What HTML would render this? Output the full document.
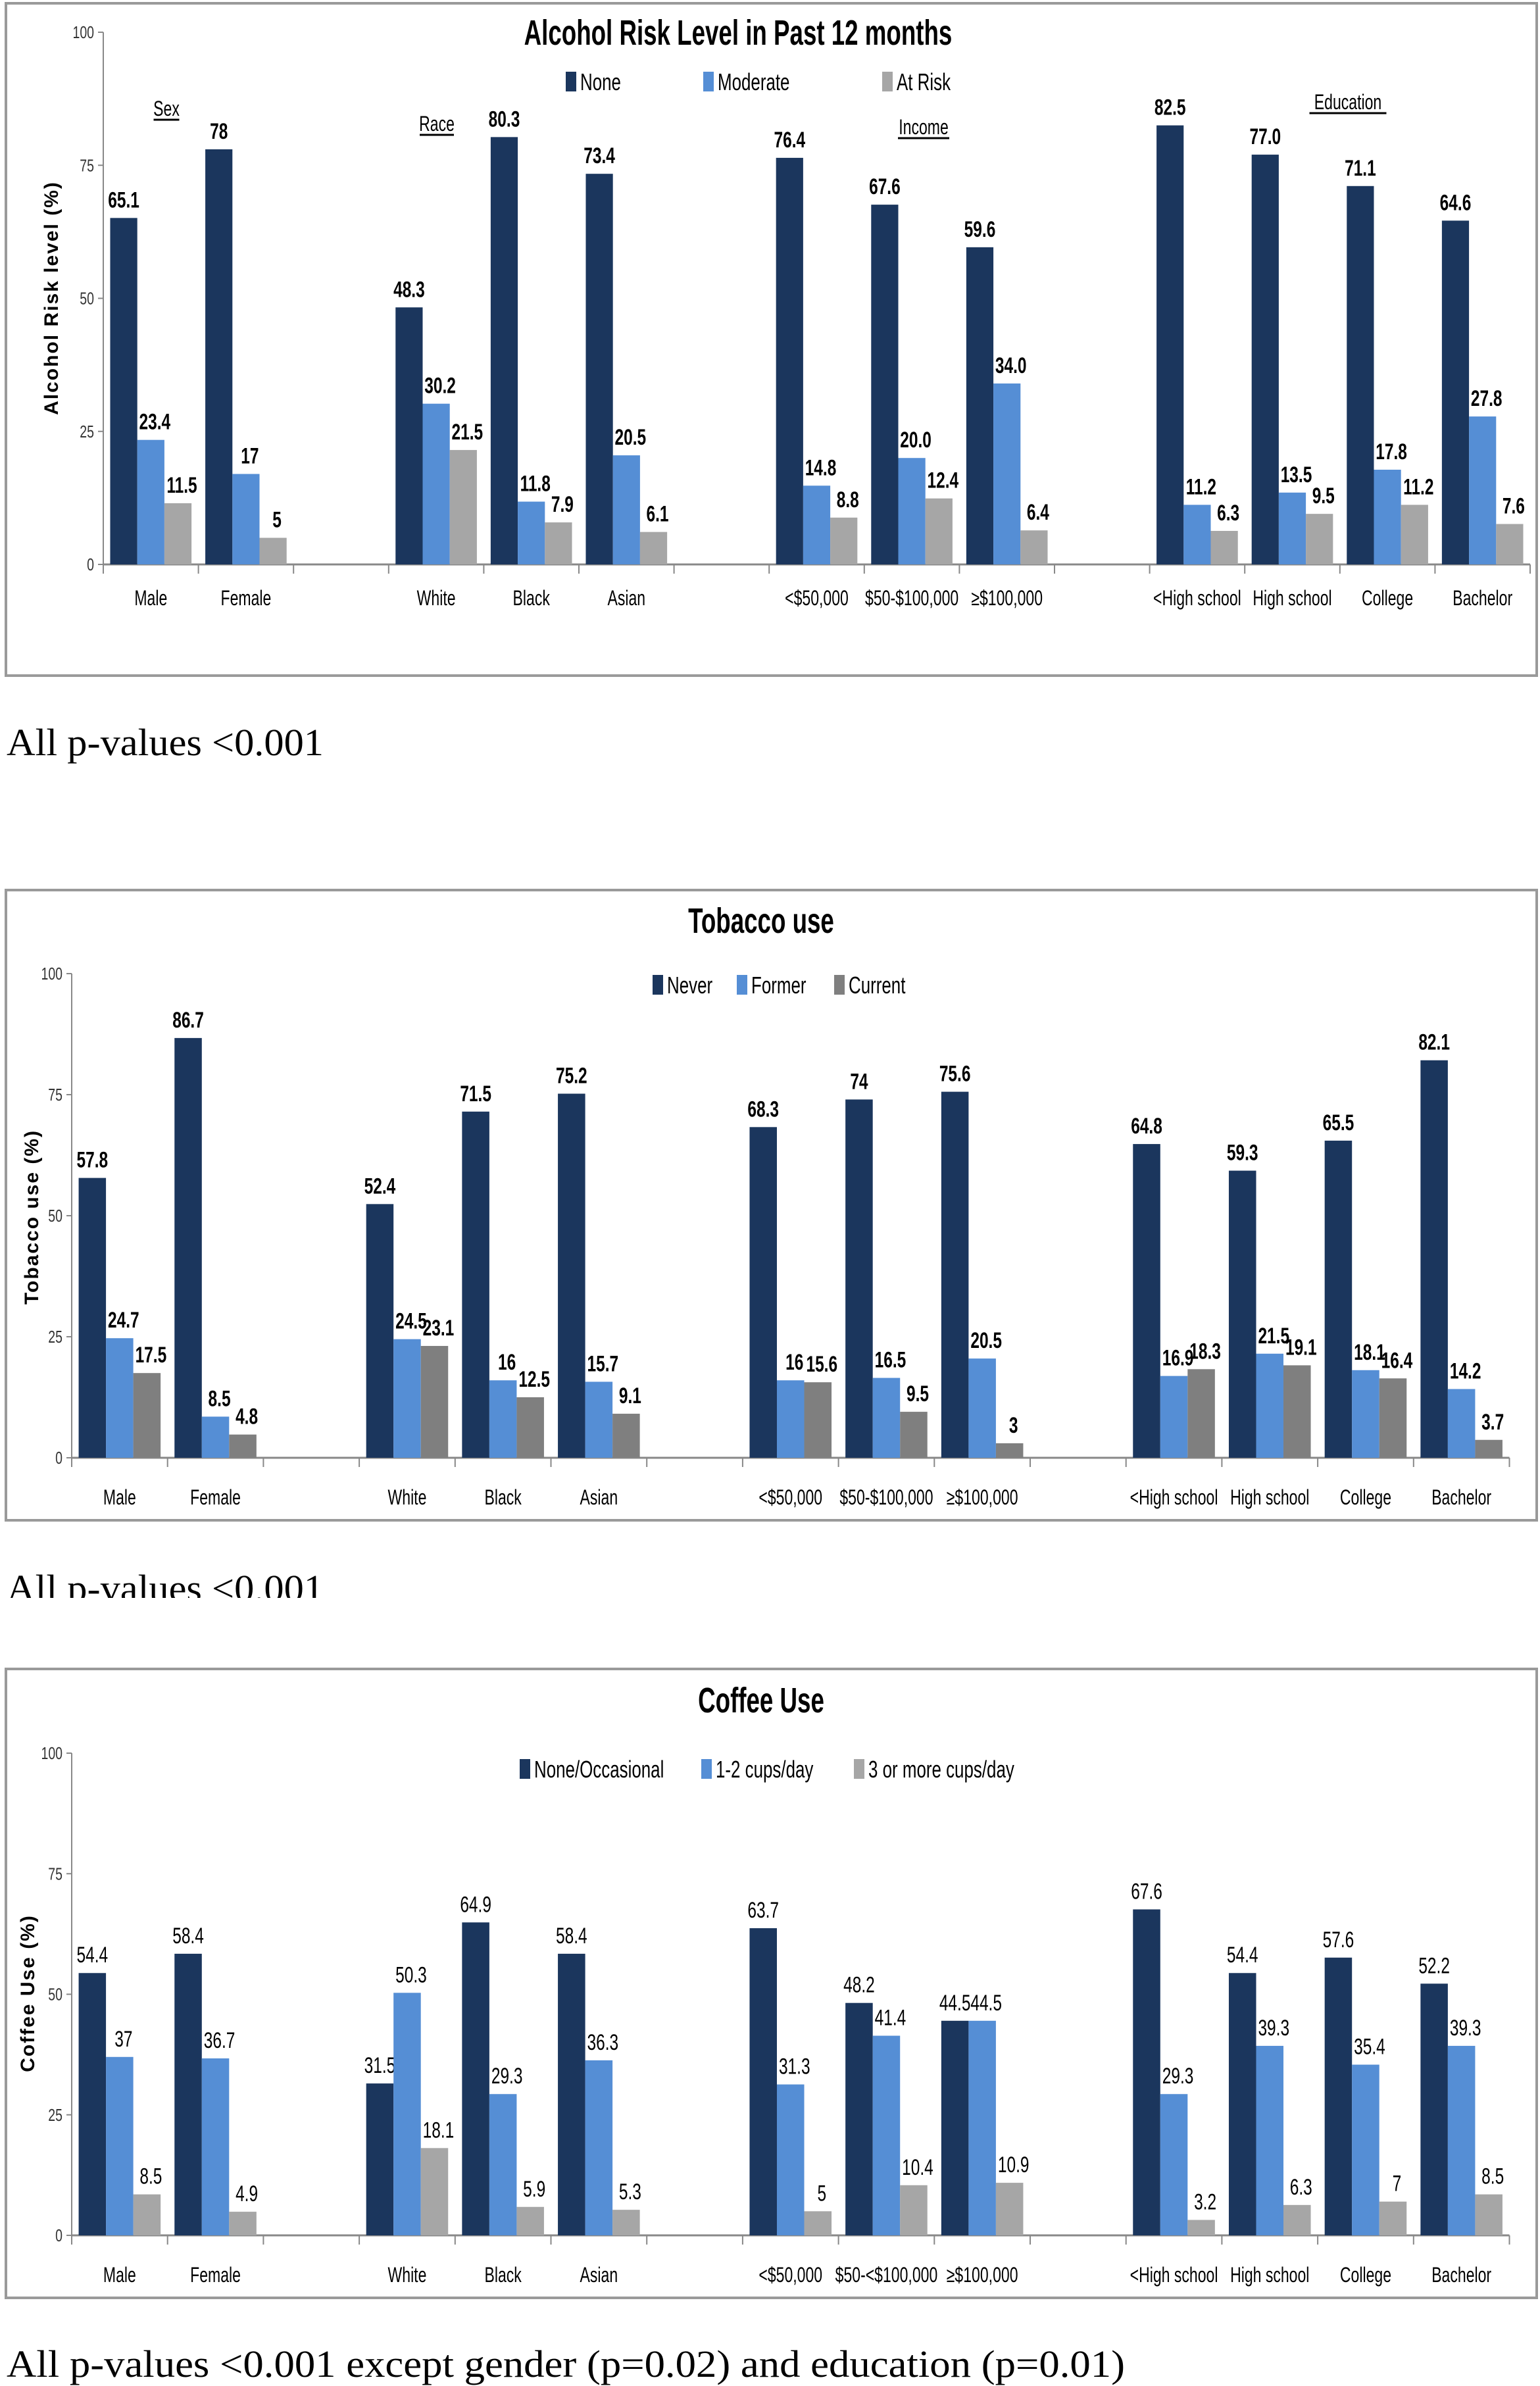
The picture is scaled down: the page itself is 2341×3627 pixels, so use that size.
<!DOCTYPE html>
<html><head><meta charset="utf-8">
<style>
html,body{margin:0;padding:0;background:#fff;}
svg{display:block;}
text{font-family:"Liberation Sans",sans-serif;}
.cap{font-family:"Liberation Serif",serif;font-size:58px;fill:#000;}
</style></head>
<body>
<svg id="s" width="2341" height="3627" viewBox="0 0 2341 3627" xmlns="http://www.w3.org/2000/svg">
<text class="cap" x="10" y="1148" textLength="482" lengthAdjust="spacingAndGlyphs">All p-values &lt;0.001</text>
<text class="cap" x="10" y="2434" textLength="482" lengthAdjust="spacingAndGlyphs">All p-values &lt;0.001</text>
<rect x="0" y="2429" width="600" height="40" fill="#fff"/>
<text class="cap" x="10" y="3613" textLength="1700" lengthAdjust="spacingAndGlyphs">All p-values &lt;0.001 except gender (p=0.02) and education (p=0.01)</text>
</svg>
<script>
const categories = ["Male","Female","","White","Black","Asian","","<$50,000","$50-$100,000","≥$100,000","","<High school","High school","College","Bachelor"];
const coffeeCategories = ["Male","Female","","White","Black","Asian","","<$50,000","$50-<$100,000","≥$100,000","","<High school","High school","College","Bachelor"];
const yTicks = [0,25,50,75,100];

const alcoholNone = [65.1,78,null,48.3,80.3,73.4,null,76.4,67.6,59.6,null,82.5,77.0,71.1,64.6];
const alcoholModerate = [23.4,17,null,30.2,11.8,20.5,null,14.8,20.0,34.0,null,11.2,13.5,17.8,27.8];
const alcoholAtRisk = [11.5,5,null,21.5,7.9,6.1,null,8.8,12.4,6.4,null,6.3,9.5,11.2,7.6];
const alcoholLabels = [["65.1","78","","48.3","80.3","73.4","","76.4","67.6","59.6","","82.5","77.0","71.1","64.6"],
 ["23.4","17","","30.2","11.8","20.5","","14.8","20.0","34.0","","11.2","13.5","17.8","27.8"],
 ["11.5","5","","21.5","7.9","6.1","","8.8","12.4","6.4","","6.3","9.5","11.2","7.6"]];

const tobaccoNever = [57.8,86.7,null,52.4,71.5,75.2,null,68.3,74,75.6,null,64.8,59.3,65.5,82.1];
const tobaccoFormer = [24.7,8.5,null,24.5,16,15.7,null,16,16.5,20.5,null,16.9,21.5,18.1,14.2];
const tobaccoCurrent = [17.5,4.8,null,23.1,12.5,9.1,null,15.6,9.5,3,null,18.3,19.1,16.4,3.7];

const coffeeNone = [54.4,58.4,null,31.5,64.9,58.4,null,63.7,48.2,44.5,null,67.6,54.4,57.6,52.2];
const coffeeOne = [37,36.7,null,50.3,29.3,36.3,null,31.3,41.4,44.5,null,29.3,39.3,35.4,39.3];
const coffeeThree = [8.5,4.9,null,18.1,5.9,5.3,null,5,10.4,10.9,null,3.2,6.3,7,8.5];

const NS="http://www.w3.org/2000/svg";
const svg=document.getElementById('s');
function mk(tag,attrs,parent){const e=document.createElementNS(NS,tag);for(const k in attrs)e.setAttribute(k,attrs[k]);(parent||svg).appendChild(e);return e;}
// narrow text: draw at origin, scale horizontally
function ntxt(str,x,y,sx,attrs,parent){const a=Object.assign({x:0,y:0,transform:`translate(${x},${y}) scale(${sx},1)`},attrs);const e=mk('text',a,parent);e.textContent=str;return e;}

function chart(cfg){
  const g=mk('g',{});
  
  
  const fr=mk('rect',{x:cfg.fx,y:cfg.fy,width:cfg.fw,height:cfg.fh,fill:'#fff',stroke:'#9a9a9a','stroke-width':4},g);
  
  
  const yS=v=>cfg.y0-(cfg.y0-cfg.y100)*v/100;
  const xS=i=>cfg.ax+cfg.slot*i;
  const right=xS(categories.length);
  const ya=mk('line',{x1:cfg.ax,y1:cfg.y100,x2:cfg.ax,y2:cfg.y0,stroke:'#888','stroke-width':2},g);
  
  
  const xa=mk('line',{x1:cfg.ax,y1:cfg.y0,x2:right,y2:cfg.y0,stroke:'#888','stroke-width':3},g);
  
  
  yTicks.forEach(t=>{
    mk('line',{x1:cfg.ax-8,y1:yS(t),x2:cfg.ax,y2:yS(t),stroke:'#888','stroke-width':2},g);
    const tl=ntxt(String(t),cfg.ax-14,yS(t)+9,0.75,{'text-anchor':'end','font-size':26,fill:'#333'},g);
    
    
  });
  for(let i=0;i<=categories.length;i++){
    mk('line',{x1:xS(i),y1:cfg.y0,x2:xS(i),y2:cfg.y0+14,stroke:'#888','stroke-width':2},g);
  }
  const bw=cfg.slot*0.285;
  cfg.series.forEach((s,si)=>{
    s.vals.forEach((v,i)=>{
      if(v==null)return;
      const cx=xS(i)+cfg.slot/2;
      const x=cx-1.5*bw+si*bw;
      const b=mk('rect',{x:x,y:yS(v),width:bw,height:cfg.y0-yS(v),fill:s.color},g);
      
      
      const lb=ntxt(cfg.fmt?cfg.fmt(si,i,v):String(v),x+bw/2+(si>0?6:0),yS(v)-16,0.72,{'text-anchor':'middle','font-size':cfg.vfs,'font-weight':cfg.vbold?'bold':'normal',fill:'#000'},g);
      
      
    });
  });
  cfg.cats.forEach((c,i)=>{
    if(!c)return;
    const cl=ntxt(c,xS(i)+cfg.slot/2,cfg.ly,0.72,{'text-anchor':'middle','font-size':32,fill:'#000'},g);
    
    
  });
  const t=ntxt(cfg.title,cfg.tx,cfg.ty,0.68,{'text-anchor':'middle','font-size':54,'font-weight':'bold',fill:'#000'},g);
  
  
  const yt=mk('text',{x:0,y:0,'text-anchor':'middle','font-size':30,'font-weight':'bold',fill:'#000','letter-spacing':2,transform:`translate(${cfg.ytx},${cfg.yty}) rotate(-90)`},g);
  yt.textContent=cfg.ytitle;
  
  
  cfg.series.forEach((s,si)=>{
    const le=mk('g',{},g);
    
    
    mk('rect',{x:cfg.legX[si],y:cfg.legY-26,width:16,height:30,fill:s.color},le);
    ntxt(s.label,cfg.legX[si]+22,cfg.legY+2,0.72,{'font-size':36,fill:'#000'},le);
  });
  (cfg.groups||[]).forEach(gr=>{
    const gl=ntxt(gr[0],gr[1],gr[2],0.72,{'text-anchor':'middle','font-size':32,fill:'#000'},g);
    
    
    mk('line',{x1:gr[1]-gr[0].length*6.5,y1:gr[2]+6,x2:gr[1]+gr[0].length*6.5,y2:gr[2]+6,stroke:'#000','stroke-width':3},g);
  });
}

chart({name:'alcohol',fx:9,fy:5,fw:2327,fh:1022,ax:157,y100:49,y0:858,slot:144.6,ly:920,cats:categories,
  title:'Alcohol Risk Level in Past 12 months',tx:1122,ty:68,ytitle:'Alcohol Risk level (%)',ytx:88,yty:453,
  vfs:34,vbold:true,fmt:(si,i)=>alcoholLabels[si][i],
  legX:[860,1069,1341],legY:135,
  series:[{key:'none',label:'None',color:'#1b365d',vals:alcoholNone},{key:'moderate',label:'Moderate',color:'#558ed5',vals:alcoholModerate},{key:'at-risk',label:'At Risk',color:'#a6a6a6',vals:alcoholAtRisk}],
  groups:[['Sex',253,176],['Race',664,199],['Income',1404,204],['Education',2049,166]]});

chart({name:'tobacco',fx:9,fy:1353,fw:2327,fh:958,ax:109,y100:1480,y0:2216,slot:145.7,ly:2287,cats:categories,
  title:'Tobacco use',tx:1157,ty:1418,ytitle:'Tobacco use (%)',ytx:58,yty:1850,
  vfs:34,vbold:true,
  legX:[992,1120,1268],legY:1508,
  series:[{key:'never',label:'Never',color:'#1b365d',vals:tobaccoNever},{key:'former',label:'Former',color:'#558ed5',vals:tobaccoFormer},{key:'current',label:'Current',color:'#7f7f7f',vals:tobaccoCurrent}]});

chart({name:'coffee',fx:9,fy:2537,fw:2327,fh:956,ax:109,y100:2665,y0:3398,slot:145.7,ly:3469,cats:coffeeCategories,
  title:'Coffee Use',tx:1157,ty:2603,ytitle:'Coffee Use (%)',ytx:52,yty:3030,
  vfs:34,vbold:false,
  legX:[790,1066,1298],legY:2700,
  series:[{key:'none-occasional',label:'None/Occasional',color:'#1b365d',vals:coffeeNone},{key:'one-two-cups',label:'1-2 cups/day',color:'#558ed5',vals:coffeeOne},{key:'three-plus-cups',label:'3 or more cups/day',color:'#a6a6a6',vals:coffeeThree}]});
</script>
</body></html>
